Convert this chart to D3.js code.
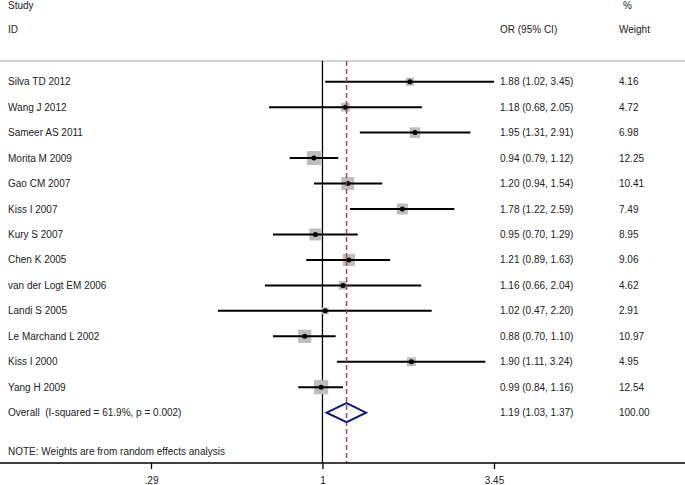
<!DOCTYPE html>
<html><head><meta charset="utf-8">
<script src="https://cdn.jsdelivr.net/npm/d3@7"></script>
<style>body{margin:0;background:#fff}svg text{font-family:"Liberation Sans",Arial,Helvetica,sans-serif;font-size:10px;fill:#222;white-space:pre}</style>
</head><body><svg id="c" width="685" height="485"></svg>
<script>
const studies = ["Silva TD 2012","Wang J 2012","Sameer AS 2011","Morita M 2009","Gao CM 2007","Kiss I 2007","Kury S 2007","Chen K 2005","van der Logt EM 2006","Landi S 2005","Le Marchand L 2002","Kiss I 2000","Yang H 2009"];
const or = [1.88,1.18,1.95,0.94,1.20,1.78,0.95,1.21,1.16,1.02,0.88,1.90,0.99];
const lo = [1.02,0.68,1.31,0.79,0.94,1.22,0.70,0.89,0.66,0.47,0.70,1.11,0.84];
const hi = [3.45,2.05,2.91,1.12,1.54,2.59,1.29,1.63,2.04,2.20,1.10,3.24,1.16];
const weights = ["4.16","4.72","6.98","12.25","10.41","7.49","8.95","9.06","4.62","2.91","10.97","4.95","12.54"];
const overallLabel = "Overall  (I-squared = 61.9%, p = 0.002)";
const overall = {or:1.19, lo:1.03, hi:1.37, weight:"100.00"};
const tickValues = [0.29, 1, 3.45];
const tickLabels = [".29","1","3.45"];

const svg = d3.select("#c");
const x = d3.scaleLog().domain([0.29, 3.45]).range([151, 494]);
const y = d3.scaleLinear().domain([0, 13]).range([81.7, 412.7]);
const fmt = d3.format(".2f");
const axisY = 463, topLine = 61;

// header
svg.append("text").attr("x",8).attr("y",9).text("Study");
svg.append("text").attr("x",8).attr("y",33).text("ID");
svg.append("text").attr("x",500).attr("y",33).text("OR (95% CI)");
svg.append("text").attr("x",623).attr("y",9).text("%");
svg.append("text").attr("x",619).attr("y",33).text("Weight");
svg.append("line").attr("x1",0).attr("x2",685).attr("y1",topLine).attr("y2",topLine).attr("stroke","#c4c4c4").attr("stroke-width",1.5);

// null line
svg.append("line").attr("x1",x(1)).attr("x2",x(1)).attr("y1",topLine).attr("y2",axisY).attr("stroke","#000").attr("stroke-width",1.3);

const rows = studies.map((s,i)=>({s,or:or[i],lo:lo[i],hi:hi[i],w:weights[i],i}));
const g = svg.append("g");
g.selectAll("rect.box").data(rows).join("rect").attr("class","box")
  .attr("x",d=>x(d.or)-2*Math.sqrt(+d.w)).attr("y",d=>y(d.i)-2*Math.sqrt(+d.w))
  .attr("width",d=>4*Math.sqrt(+d.w)).attr("height",d=>4*Math.sqrt(+d.w)).attr("fill","#bdbdbd");
g.selectAll("line.ci").data(rows).join("line").attr("class","ci")
  .attr("x1",d=>x(d.lo)).attr("x2",d=>x(d.hi)).attr("y1",d=>y(d.i)).attr("y2",d=>y(d.i))
  .attr("stroke","#000").attr("stroke-width",2);
g.selectAll("circle").data(rows).join("circle")
  .attr("cx",d=>x(d.or)).attr("cy",d=>y(d.i)).attr("r",2.5).attr("fill","#000");
g.selectAll("text.name").data(rows).join("text").attr("class","name")
  .attr("x",8).attr("y",d=>y(d.i)+3.5).text(d=>d.s);
g.selectAll("text.est").data(rows).join("text").attr("class","est")
  .attr("x",500).attr("y",d=>y(d.i)+3.5).text(d=>`${fmt(d.or)} (${fmt(d.lo)}, ${fmt(d.hi)})`);
g.selectAll("text.wt").data(rows).join("text").attr("class","wt")
  .attr("x",619).attr("y",d=>y(d.i)+3.5).text(d=>d.w);

const oy = y(13);
svg.append("text").attr("x",8).attr("y",oy+3.5).text(overallLabel);
svg.append("text").attr("x",500).attr("y",oy+3.5).text(`${fmt(overall.or)} (${fmt(overall.lo)}, ${fmt(overall.hi)})`);
svg.append("text").attr("x",619).attr("y",oy+3.5).text(overall.weight);

svg.append("line").attr("x1",x(overall.or)).attr("x2",x(overall.or)).attr("y1",topLine).attr("y2",axisY)
  .attr("stroke","#a5484e").attr("stroke-width",1.5).attr("stroke-dasharray","5,3");

svg.append("path").attr("d",`M${x(overall.lo)},${oy} L${x(overall.or)},${oy-9.5} L${x(overall.hi)},${oy} L${x(overall.or)},${oy+9.5} Z`)
  .attr("fill","none").attr("stroke","#0f1a7a").attr("stroke-width",2);

svg.append("text").attr("x",8).attr("y",455).text("NOTE: Weights are from random effects analysis");

svg.append("line").attr("x1",0).attr("x2",685).attr("y1",axisY).attr("y2",axisY).attr("stroke","#000").attr("stroke-width",1.3);
const ax = svg.append("g").attr("transform",`translate(0,${axisY})`)
  .call(d3.axisBottom(x).tickValues(tickValues).tickFormat((d,i)=>tickLabels[i]).tickSize(6).tickPadding(8));
ax.select(".domain").remove();
ax.selectAll("line").attr("stroke","#000").attr("stroke-width",1.3);
ax.selectAll("text").style("font-family","Liberation Sans, Arial, sans-serif").style("font-size","10px").attr("fill","#222");
</script></body></html>
